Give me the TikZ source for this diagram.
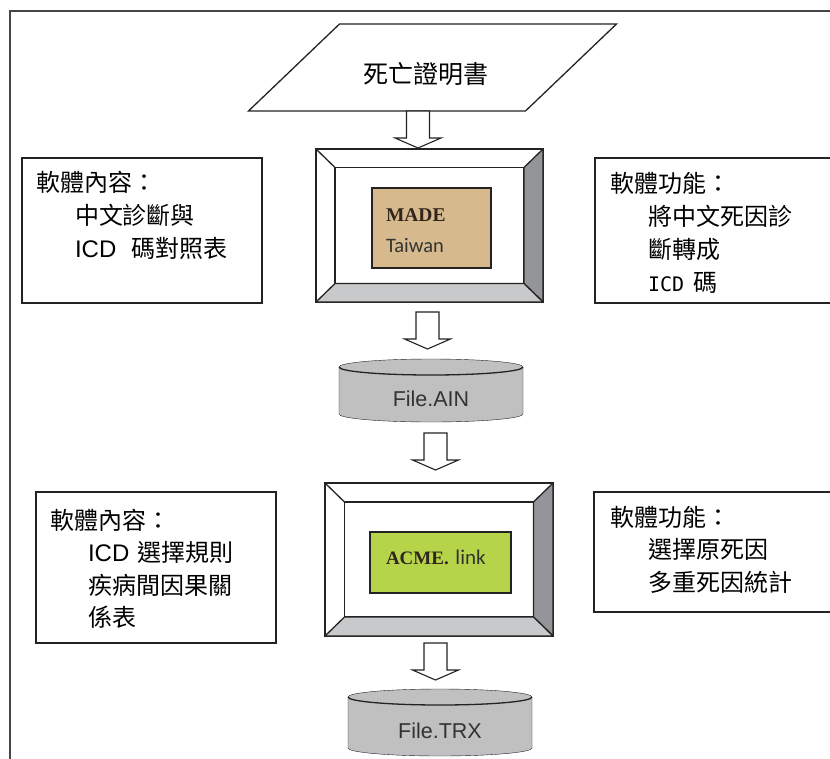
\documentclass[tikz,border=0pt]{standalone}
\usepackage{fontspec}
\newfontfamily\cjkfont{Noto Sans CJK TC}
\newfontfamily\latinfont{Liberation Sans}
\newfontfamily\codefont{DejaVu Sans Mono}
\newfontfamily\romanfont{Liberation Serif}
\newfontfamily\carlitofont{Carlito}
\usetikzlibrary{calc,backgrounds}
\definecolor{linegray}{RGB}{35,35,35}
\definecolor{framegray}{RGB}{70,70,70}
\definecolor{sidegray}{RGB}{147,149,152}
\definecolor{bottomgray}{RGB}{200,201,203}
\definecolor{diskgray}{RGB}{192,192,192}
\definecolor{disktext}{RGB}{51,51,51}
\definecolor{papertan}{RGB}{214,186,142}
\definecolor{acmegreen}{RGB}{181,212,74}
\definecolor{logotext}{RGB}{50,38,28}
\newcommand{\boxindent}{\hspace*{39pt}}
\begin{document}
\begin{tikzpicture}[x=1pt,y=-1pt,line width=1.3pt,
certtext/.style={rectangle,inner sep=0pt,outer sep=0pt,minimum width=368pt,minimum height=87pt,text height=35pt,text depth=3pt,font=\cjkfont\fontsize{25}{30}\selectfont},
infobox/.style={draw=linegray,rectangle,inner ysep=0pt,outer sep=0pt,align=left,text=black,font=\cjkfont\fontsize{24}{33}\selectfont},
bevelouter/.style={draw=linegray,fill=white,rectangle,inner sep=0pt,outer sep=0pt,minimum width=227pt,minimum height=153pt},
bevelinner/.style={draw=linegray,rectangle,inner sep=0pt,outer sep=0pt,minimum width=189pt,minimum height=116pt},
bevelside/.style={draw=linegray,fill=sidegray,line join=round},
bevelbottom/.style={draw=linegray,fill=bottomgray,line join=round},
logobox/.style={draw=linegray,rectangle,inner ysep=0pt,outer sep=0pt,align=left,text=logotext,font=\fontsize{20}{31}\selectfont},
disk/.style={rectangle,inner sep=0pt,outer sep=0pt,minimum width=184pt,text=disktext,font=\latinfont\fontsize{21.5}{24}\selectfont},
diskbody/.style={draw=linegray,fill=diskgray},
fatarrow/.pic={\draw[draw=linegray,fill=white,line width=1.1pt] (-11.5,0) -- (11.5,0) -- (11.5,27) -- (23,27) -- (0,37) -- (-23,27) -- (-11.5,27) -- cycle;}]
\useasboundingbox (0,0) rectangle (830,758);
\clip (0,0) rectangle (830,758);

% page frame
\draw[framegray,line width=2pt] (9.5,760) -- (9.5,10.5) -- (832,10.5);

% input form
\node[certtext] (cert) at (432.5,67.5) {死亡證明書\hspace*{14pt}};
\draw[linegray] (cert.south west) -- ($(cert.north west)+(91,0)$) -- (cert.north east) -- ($(cert.south east)+(-91,0)$) -- cycle;

% first program
\node[bevelouter] (madeframe) at (429.5,225.5) {};
\node[bevelinner] (madeinner) at (madeframe) {};
\draw[bevelside] (madeframe.north east) -- (madeframe.south east) -- (madeinner.south east) -- (madeinner.north east) -- cycle;
\draw[bevelbottom] (madeframe.south west) -- (madeframe.south east) -- (madeinner.south east) -- (madeinner.south west) -- cycle;
\draw[linegray] (madeframe.north west) -- (madeinner.north west);
\node[logobox,fill=papertan,text width=91pt,inner xsep=14pt,text height=33pt,text depth=47pt] (made) at (431.5,228)
  {{\romanfont\bfseries\fontsize{19.5}{31}\selectfont MADE}\\{\carlitofont\color{disktext}\fontsize{20.5}{31}\selectfont Taiwan}};

% side notes, first program
\node[infobox,text width=212pt,inner xsep=14pt,text height=33pt,text depth=112pt] (madedata) at (142,230.5)
  {軟體內容：\\ \boxindent 中文診斷與\\ \boxindent {\latinfont ICD}\hspace{15pt}碼對照表};
\node[infobox,text width=230pt,inner xsep=15pt,text height=34pt,text depth=111pt] (madetask) at (725,230.5)
  {軟體功能：\\ \hspace*{38pt}將中文死因診\\ \hspace*{38pt}斷轉成\\ \hspace*{38pt}{\codefont\fontsize{20}{33}\selectfont ICD}\hspace{9pt}碼};

% first output file
\node[disk,minimum height=47pt] (ain) at (431,398.5) {File.AIN};

% second program
\node[bevelouter,minimum width=228pt] (acmeframe) at (439,559.5) {};
\node[bevelinner,minimum height=115pt] (acmeinner) at (acmeframe) {};
\draw[bevelside] (acmeframe.north east) -- (acmeframe.south east) -- (acmeinner.south east) -- (acmeinner.north east) -- cycle;
\draw[bevelbottom] (acmeframe.south west) -- (acmeframe.south east) -- (acmeinner.south east) -- (acmeinner.south west) -- cycle;
\draw[linegray] (acmeframe.north west) -- (acmeinner.north west);
\node[logobox,fill=acmegreen,text width=109pt,inner xsep=16pt,text height=32pt,text depth=29pt] (acme) at (440.5,562.5)
  {{\romanfont\bfseries\fontsize{19}{31}\selectfont ACME.} {\carlitofont\color{disktext}\fontsize{21}{31}\selectfont link}};

% side notes, second program
\node[infobox,text width=212pt,inner xsep=14pt,text height=37pt,text depth=114pt,font=\cjkfont\fontsize{24}{32.5}\selectfont] (acmedata) at (156,567.5)
  {軟體內容：\\ \hspace*{38pt}{\latinfont ICD} 選擇規則\\ \hspace*{38pt}疾病間因果關\\ \hspace*{38pt}係表};
\node[infobox,text width=228pt,inner xsep=16pt,text height=34pt,text depth=86pt,font=\cjkfont\fontsize{24}{32.5}\selectfont] (acmetask) at (724,552)
  {軟體功能：\\ \hspace*{38pt}選擇原死因\\ \hspace*{38pt}多重死因統計};

% second output file
\node[disk,minimum height=51pt] (trx) at (440,730.5) {File.TRX};

% disk bodies
\begin{scope}[on background layer]
\draw[diskbody] ($(ain.north west)+(0,-8)$) -- ($(ain.south west)+(0,-8)$) arc[start angle=180,end angle=0,x radius=92,y radius=8] -- ($(ain.north east)+(0,-8)$) arc[start angle=0,end angle=-180,x radius=92,y radius=8] -- cycle;
\draw[diskbody] ($(trx.north west)+(0,-8)$) -- ($(trx.south west)+(0,-8)$) arc[start angle=180,end angle=0,x radius=92,y radius=8] -- ($(trx.north east)+(0,-8)$) arc[start angle=0,end angle=-180,x radius=92,y radius=8] -- cycle;
\end{scope}
\draw[linegray] ($(ain.north east)+(0,-8)$) arc[start angle=0,end angle=180,x radius=92,y radius=8];
\draw[linegray] ($(trx.north east)+(0,-8)$) arc[start angle=0,end angle=180,x radius=92,y radius=8];

% flow arrows
\pic at ($(cert.south)+(-14.5,0)$) {fatarrow};
\pic at ($(madeframe.south)+(-2,10)$) {fatarrow};
\pic at ($(ain.south)+(4.5,11)$) {fatarrow};
\pic at ($(acmeframe.south)+(-3.5,7)$) {fatarrow};
\end{tikzpicture}
\end{document}
